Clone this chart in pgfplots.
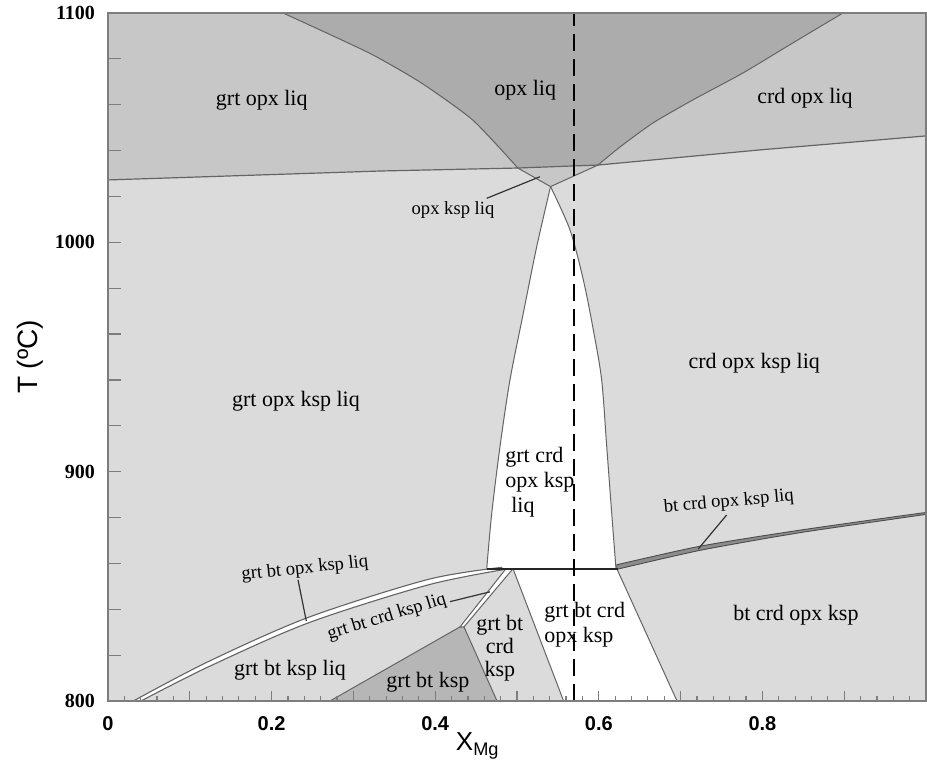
\documentclass[border=0pt]{standalone}
\usepackage{fontspec}
\setmainfont{Liberation Serif}
\newfontfamily\sansf{Liberation Sans}
\usepackage{pgfplots}
\pgfplotsset{compat=1.18}
\definecolor{lightR}{RGB}{219,219,219}
\definecolor{medR}{RGB}{199,199,199}
\definecolor{darkR}{RGB}{172,172,172}
\definecolor{gbkR}{RGB}{182,182,182}
\definecolor{bnd}{RGB}{100,100,100}
\definecolor{axc}{RGB}{125,125,125}
\begin{document}
\begin{tikzpicture}
\useasboundingbox (-54pt,-31pt) rectangle (409.5pt,350.5pt);
\begin{axis}[
  scale only axis, width=409pt, height=344pt,
  xmin=0, xmax=1, ymin=800, ymax=1100,
  axis background/.style={fill=lightR},
  axis on top,
  tick align=inside, tick pos=left,
  xtick={0,0.1,0.2,0.3,0.4,0.5,0.6,0.7,0.8,0.9,1},
  xticklabels={0,,0.2,,0.4,,0.6,,0.8,,},
  minor x tick num=4,
  ytick={800,900,1000,1100},
  yticklabels={800,900,1000,1100},
  minor y tick num=4,
  xtick style={/pgfplots/major tick length=5pt,/pgfplots/minor tick length=2.5pt},
  ytick style={/pgfplots/major tick length=6.5pt,/pgfplots/minor tick length=6.5pt},
  tick style={axc, line width=0.6pt},
  axis line style={axc, line width=0.8pt},
  xticklabel style={font=\sansf\bfseries\fontsize{10}{12}\selectfont, yshift=-4pt},
  yticklabel style={font=\bfseries\fontsize{10}{12}\selectfont, xshift=-3pt},
  xlabel={X\textsubscript{Mg}},
  xlabel style={font=\sansf\fontsize{13}{15}\selectfont, at={(axis description cs:0.452,-0.0654)}, anchor=center},
  ylabel={T (ºC)},
  ylabel style={font=\sansf\fontsize{14}{16}\selectfont, at={(axis description cs:-0.0954,0.5)}, anchor=center},
]
% ---- region fills ----
\addplot[fill=medR, draw=none] coordinates {(0,1027.2)(0.333,1031.1)(0.501,1032.4)(0.599,1033.7)(0.797,1040.3)(1,1046.4)(1,1100)(0,1100)} -- cycle;
\addplot[fill=darkR, draw=none] coordinates {(0.214,1100)(0.319,1082.6)(0.383,1069.5)(0.446,1053.3)(0.501,1032.4)(0.599,1033.7)(0.626,1041.6)(0.666,1052.0)(0.715,1062.1)(0.776,1073.8)(0.837,1086.9)(0.8985,1100)} -- cycle;
\addplot[fill=medR, draw=none] coordinates {(0.501,1032.4)(0.541,1024.3)(0.599,1033.7)} -- cycle;
% grt crd opx ksp liq (white)
\addplot[fill=white, draw=none] coordinates {(0.541,1024.3)(0.5648,1005.4)(0.5811,983.6)(0.5933,961.8)(0.6035,940.0)(0.6097,910.9)(0.6158,881.8)(0.621,857.7)(0.463,857.7)(0.4691,881.8)(0.4792,910.9)(0.4914,940.0)(0.5077,969.1)(0.5241,998.1)} -- cycle;
\addplot[bnd, line width=0.5pt, smooth, tension=0.5] coordinates {(0.541,1024.3)(0.5648,1005.4)(0.5811,983.6)(0.5933,961.8)(0.6035,940.0)(0.6097,910.9)(0.6158,881.8)(0.621,857.7)};
\addplot[bnd, line width=0.5pt, smooth, tension=0.5] coordinates {(0.541,1024.3)(0.5241,998.1)(0.5077,969.1)(0.4914,940.0)(0.4792,910.9)(0.4691,881.8)(0.463,857.7)};
% grt bt crd opx ksp (white)
\addplot[fill=white, draw=bnd, line width=0.5pt] coordinates {(0.4951,857.7)(0.622,857.7)(0.6956,800)(0.557,800)} -- cycle;
% grt bt ksp
\addplot[fill=gbkR, draw=bnd, line width=0.5pt] coordinates {(0.2714,800)(0.4303,832.3)(0.4352,832.3)(0.4756,800)} -- cycle;
% band grt bt crd ksp liq
\addplot[fill=white, draw=bnd, line width=0.5pt] coordinates {(0.4303,832.3)(0.4866,857.7)(0.4951,857.7)(0.4352,832.3)} -- cycle;
% band grt bt opx ksp liq
\addplot[fill=white, draw=none, smooth, tension=0.4] coordinates {(0.031,800)(0.1222,817.1)(0.2445,836.4)(0.3912,853.0)(0.482,858.3)(0.489,857.6)(0.3912,850.6)(0.2445,834.0)(0.1222,814.8)(0.0403,800)} -- cycle;
\addplot[bnd, line width=0.55pt, smooth] coordinates {(0.031,800)(0.1222,817.1)(0.2445,836.4)(0.3912,853.0)(0.482,858.3)};
\addplot[bnd, line width=0.55pt, smooth] coordinates {(0.0403,800)(0.1222,814.8)(0.2445,834.0)(0.3912,850.6)(0.489,857.6)};
% band bt crd opx ksp liq
\addplot[fill=black!45, draw=black!70, line width=0.45pt, smooth, tension=0.4] coordinates {(0.622,859.4)(0.724,867.5)(0.846,874.5)(1,882.2)(1,881.4)(0.846,873.4)(0.724,865.7)(0.622,857.4)} -- cycle;
% ---- boundary lines ----
\addplot[bnd, line width=0.6pt] coordinates {(0,1027.2)(0.333,1031.1)(0.501,1032.4)(0.599,1033.7)(0.797,1040.3)(1,1046.4)};
\addplot[bnd, line width=0.5pt, smooth, tension=0.4] coordinates {(0.214,1100)(0.319,1082.6)(0.383,1069.5)(0.446,1053.3)(0.501,1032.4)};
\addplot[bnd, line width=0.5pt] coordinates {(0.501,1032.4)(0.541,1024.3)};
\addplot[bnd, line width=0.5pt, smooth, tension=0.4] coordinates {(0.8985,1100)(0.837,1086.9)(0.776,1073.8)(0.715,1062.1)(0.666,1052.0)(0.626,1041.6)(0.599,1033.7)};
\addplot[bnd, line width=0.5pt] coordinates {(0.599,1033.7)(0.541,1024.3)};
% thick reaction line
\addplot[black!85, line width=1.1pt] coordinates {(0.463,857.7)(0.624,857.7)};
% dashed composition line
\addplot[black, line width=1.35pt, dash pattern=on 8.3pt off 4.2pt] coordinates {(0.5695,800)(0.5695,1100)};
% leader lines
\addplot[black!80, line width=0.6pt] coordinates {(0.463,1019.2)(0.528,1028.6)};
\addplot[black!80, line width=0.6pt] coordinates {(0.7563,881.1)(0.7216,866.3)};
\addplot[black!80, line width=0.6pt] coordinates {(0.2323,852.8)(0.2424,834.9)};
\addplot[black!80, line width=0.6pt] coordinates {(0.418,843.3)(0.467,847.6)};
% ---- labels ----
\begin{scope}[every node/.style={font=\fontsize{11}{13}\selectfont, inner sep=0pt}]
\node at (axis cs:0.188,1062.1) {grt opx liq};
\node at (axis cs:0.510,1066.4) {opx liq};
\node at (axis cs:0.852,1062.9) {crd opx liq};
\node at (axis cs:0.2298,930.8) {grt opx ksp liq};
\node at (axis cs:0.790,947.4) {crd opx ksp liq};
\node[anchor=west, align=left, font=\fontsize{11}{12.5}\selectfont] at (axis cs:0.4853,895.5) {grt crd\\opx ksp\\\hspace{3pt}liq};
\node at (axis cs:0.2225,813.5) {grt bt ksp liq};
\node at (axis cs:0.391,808.3) {grt bt ksp};
\node[align=center, font=\fontsize{11}{11.5}\selectfont] at (axis cs:0.479,823.1) {grt bt\\crd\\ksp};
\node[anchor=west, align=left, font=\fontsize{11}{12.5}\selectfont] at (axis cs:0.533,833.1) {grt bt crd\\opx ksp};
\node at (axis cs:0.841,837.5) {bt crd opx ksp};
\end{scope}
\begin{scope}[every node/.style={font=\fontsize{9.3}{11}\selectfont, inner sep=0pt}]
\node at (axis cs:0.4218,1014.1) {opx ksp liq};
\node[rotate=5] at (axis cs:0.759,886.8) {bt crd opx ksp liq};
\node[rotate=6] at (axis cs:0.2408,857.6) {grt bt opx ksp liq};
\node[rotate=17] at (axis cs:0.341,836.6) {grt bt crd ksp liq};
\end{scope}
\end{axis}
\end{tikzpicture}
\end{document}
